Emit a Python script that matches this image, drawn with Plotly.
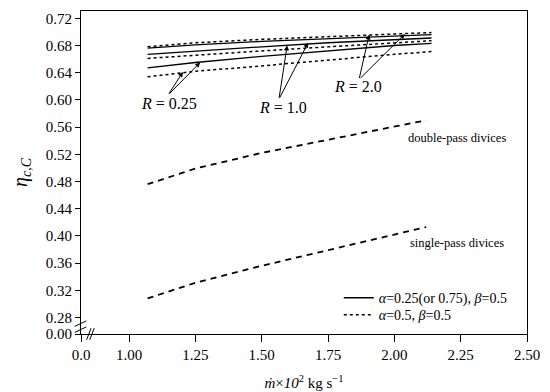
import plotly.graph_objects as go

# ---- data ----
x_top = [1.07, 1.25, 1.50, 1.75, 2.00, 2.14]
r20_dot = [0.678, 0.684, 0.689, 0.693, 0.697, 0.699]
r20_sol = [0.676, 0.681, 0.686, 0.690, 0.694, 0.696]
r10_sol = [0.667, 0.672, 0.678, 0.684, 0.689, 0.691]
r10_dot = [0.661, 0.666, 0.672, 0.678, 0.684, 0.687]
r025_sol = [0.647, 0.655, 0.664, 0.672, 0.680, 0.683]
r025_dot = [0.634, 0.642, 0.650, 0.659, 0.667, 0.671]

x_dash = [1.07, 1.25, 1.50, 1.75, 2.00, 2.12]
double_pass = [0.476, 0.499, 0.522, 0.541, 0.560, 0.570]
single_pass = [0.308, 0.331, 0.356, 0.379, 0.401, 0.413]

x_ticks = [0.819, 1.00, 1.25, 1.50, 1.75, 2.00, 2.25, 2.50]
x_ticktext = ["0.0", "1.00", "1.25", "1.50", "1.75", "2.00", "2.25", "2.50"]
y_ticks = [0.2557, 0.28, 0.32, 0.36, 0.40, 0.44, 0.48, 0.52, 0.56, 0.60, 0.64, 0.68, 0.72]
y_ticktext = ["0.00", "0.28", "0.32", "0.36", "0.40", "0.44", "0.48", "0.52", "0.56",
              "0.60", "0.64", "0.68", "0.72"]

FONT = "Liberation Serif, Times New Roman, serif"

fig = go.Figure()

solid = dict(color="black", width=1.3)
dotted = dict(color="black", width=1.5, dash="dot")
dashed = dict(color="black", width=1.8, dash="6px,5px")

fig.add_trace(go.Scatter(x=x_top, y=r20_sol, mode="lines", line=solid,
                         name="<i>α</i>=0.25(or 0.75), <i>β</i>=0.5",
                         legend="legend", showlegend=True))
fig.add_trace(go.Scatter(x=x_top, y=r10_sol, mode="lines", line=solid, showlegend=False))
fig.add_trace(go.Scatter(x=x_top, y=r025_sol, mode="lines", line=solid, showlegend=False))
fig.add_trace(go.Scatter(x=x_top, y=r20_dot, mode="lines", line=dotted,
                         name="<i>α</i>=0.5, <i>β</i>=0.5",
                         legend="legend2", showlegend=True))
fig.add_trace(go.Scatter(x=x_top, y=r10_dot, mode="lines", line=dotted, showlegend=False))
fig.add_trace(go.Scatter(x=x_top, y=r025_dot, mode="lines", line=dotted, showlegend=False))
fig.add_trace(go.Scatter(x=x_dash, y=double_pass, mode="lines", line=dashed, showlegend=False))
fig.add_trace(go.Scatter(x=x_dash, y=single_pass, mode="lines", line=dashed, showlegend=False))

# arrows: (label, text x, text y, tail x, tail y, [heads])
arrow_sets = [
    ("<i>R</i> = 0.25", 1.149, 0.5953, 1.147, 0.607, [(1.203, 0.641), (1.268, 0.655)]),
    ("<i>R</i> = 1.0", 1.580, 0.5894, 1.565, 0.601, [(1.596, 0.680), (1.675, 0.684)]),
    ("<i>R</i> = 2.0", 1.863, 0.619, 1.867, 0.630, [(1.905, 0.696), (2.04, 0.697)]),
]
for label, tx, ty, ax, ay, heads in arrow_sets:
    fig.add_annotation(x=tx, y=ty, text=label, showarrow=False,
                       font=dict(family=FONT, size=16, color="black"))
    for hx, hy in heads:
        fig.add_annotation(x=hx, y=hy, ax=ax, ay=ay, xref="x", yref="y",
                           axref="x", ayref="y", text="", showarrow=True,
                           arrowhead=2, arrowsize=1, arrowwidth=1, arrowcolor="black")

fig.add_annotation(x=2.238, y=0.544, text="double-pass divices", showarrow=False,
                   xanchor="center", font=dict(family=FONT, size=12.5, color="black"))
fig.add_annotation(x=2.238, y=0.390, text="single-pass divices", showarrow=False,
                   xanchor="center", font=dict(family=FONT, size=12.5, color="black"))

# axis break marks
brk = dict(color="black", width=1)
for dy in (-4, 2):
    fig.add_shape(type="line", xref="paper", yref="y", x0=-0.014, x1=0.012,
                  y0=0.268 + dy / 680 - 0.004, y1=0.268 + dy / 680 + 0.004, line=brk)
for dx in (0.0, 0.012):
    fig.add_shape(type="line", xref="x", yref="paper", x0=0.84 + dx, x1=0.857 + dx,
                  y0=-0.018, y1=0.018, line=brk)

fig.update_layout(
    width=550, height=392,
    margin=dict(l=81, r=23, t=11, b=58, autoexpand=False),
    paper_bgcolor="white", plot_bgcolor="white",
    font=dict(family=FONT, size=15, color="black"),
    showlegend=True,
    legend=dict(x=0.578, y=0.111, xanchor="left", yanchor="middle",
                bgcolor="rgba(0,0,0,0)", font=dict(family=FONT, size=14)),
    legend2=dict(x=0.578, y=0.058, xanchor="left", yanchor="middle",
                 bgcolor="rgba(0,0,0,0)", font=dict(family=FONT, size=14)),
)
fig.update_xaxes(range=[0.819, 2.5], tickvals=x_ticks, ticktext=x_ticktext,
                 ticks="outside", ticklen=7, tickcolor="black", automargin=False,
                 showline=True, linecolor="black", linewidth=1, mirror=True,
                 showgrid=False, zeroline=False,
                 title=dict(text="<i>ṁ</i>×<i>10</i><sup>2</sup> kg s<sup>−1</sup>",
                            font=dict(family=FONT, size=15), standoff=15))
fig.update_yaxes(range=[0.2557, 0.7307], tickvals=y_ticks, ticktext=y_ticktext,
                 ticks="outside", ticklen=5, tickcolor="black", automargin=False,
                 showline=True, linecolor="black", linewidth=1, mirror=True,
                 showgrid=False, zeroline=False,
                 title=dict(text="<i>η</i><sub><i>c,C</i></sub>",
                            font=dict(family=FONT, size=20), standoff=12))

fig.write_html("out.html", post_script="document.body.style.margin='0';",
               config={"displayModeBar": False})
